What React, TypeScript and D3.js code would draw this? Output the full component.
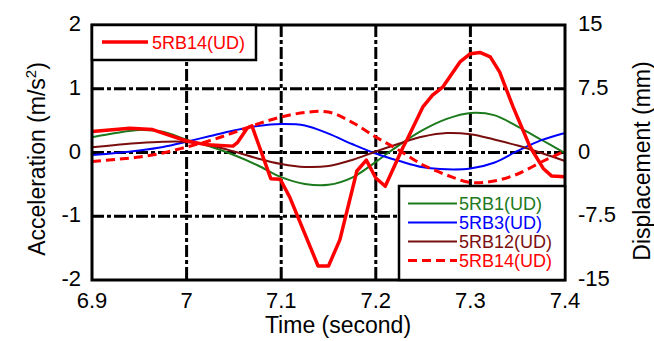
import React from "react";
import * as d3 from "d3";

// Displacement series (mm), sampled every 0.025 s from 6.9 to 7.4
const dispTimes = [6.9, 6.925, 6.95, 6.975, 7.0, 7.025, 7.05, 7.075, 7.1, 7.125, 7.15, 7.175, 7.2, 7.225, 7.25, 7.275, 7.3, 7.325, 7.35, 7.375, 7.4];
const rb1Disp = [1.8, 2.3, 2.65, 2.45, 1.5, 0.7, -0.3, -1.5, -2.9, -3.7, -3.8, -2.95, -1.1, 0.9, 2.65, 3.95, 4.65, 4.4, 3.05, 1.5, -0.06];
const rb3Disp = [-0.3, -0.06, 0.24, 0.65, 1.27, 1.94, 2.59, 3.12, 3.35, 3.18, 2.22, 1.0, -0.12, -1.0, -1.74, -1.98, -1.88, -1.2, 0.18, 1.45, 2.3];
const rb12Disp = [0.61, 0.88, 1.12, 1.26, 1.24, 0.82, 0.12, -0.7, -1.35, -1.7, -1.59, -0.88, 0.12, 1.06, 1.88, 2.29, 2.14, 1.53, 0.82, -0.06, -1.0];
const rb14Disp = [-1.06, -0.82, -0.53, -0.06, 0.65, 1.41, 2.35, 3.35, 4.18, 4.7, 4.76, 3.55, 1.82, 0.24, -1.47, -2.65, -3.53, -3.35, -2.53, -1.12, 0.18];

// Acceleration series (m/s^2)
const accTimes = [6.9, 6.94, 6.964, 7.0, 7.022, 7.049, 7.054, 7.064, 7.069, 7.089, 7.099, 7.109, 7.139, 7.15, 7.162, 7.18, 7.19, 7.2, 7.21, 7.229, 7.233, 7.25, 7.26, 7.271, 7.289, 7.3, 7.31, 7.321, 7.331, 7.345, 7.363, 7.377, 7.386, 7.4];
const rb14Acc = [0.33, 0.38, 0.36, 0.18, 0.12, 0.1, 0.16, 0.38, 0.42, -0.41, -0.42, -0.7, -1.78, -1.78, -1.37, -0.29, -0.12, -0.4, -0.53, 0.09, 0.2, 0.72, 0.9, 1.03, 1.42, 1.55, 1.57, 1.5, 1.26, 0.72, 0.09, -0.25, -0.37, -0.38];

const xTicks = [6.9, 7.0, 7.1, 7.2, 7.3, 7.4];
const xTickLabels = ["6.9", "7", "7.1", "7.2", "7.3", "7.4"];
const yLeftTicks = [2, 1, 0, -1, -2];
const yRightTicks = [15, 7.5, 0, -7.5, -15];
const xGrid = [7.0, 7.1, 7.2, 7.3];
const yGrid = [1, 0, -1];

const legendItems = [
  { label: "5RB1(UD)", color: "#1c7a1c", dash: "" },
  { label: "5RB3(UD)", color: "#0000ff", dash: "" },
  { label: "5RB12(UD)", color: "#7a0e0e", dash: "" },
  { label: "5RB14(UD)", color: "#ff0000", dash: "9,5" },
];

export default function App() {
  const W = 654, H = 341;
  const L = 92, R = 565, T = 25, B = 280;
  const x = d3.scaleLinear().domain([6.9, 7.4]).range([L, R]);
  const yL = d3.scaleLinear().domain([-2, 2]).range([B, T]);
  const yR = d3.scaleLinear().domain([-15, 15]).range([B, T]);

  const dispLine = (vals: number[]) =>
    d3.line<number>().x((_, i) => x(dispTimes[i])).y((d) => yR(d)).curve(d3.curveCatmullRom)(vals) || "";
  const accLine =
    d3.line<number>().x((_, i) => x(accTimes[i])).y((d) => yL(d))(rb14Acc) || "";

  const font = "Arial, 'Liberation Sans', sans-serif";
  const gridDash = "12,3,4,3";

  return (
    <svg width={W} height={H} style={{ position: "absolute", left: 0, top: 0 }} fontFamily={font}>
      <rect x={0} y={0} width={W} height={H} fill="#fff" />
      {/* grid */}
      {xGrid.map((t) => (
        <line key={"gx" + t} x1={x(t)} x2={x(t)} y1={T} y2={B} stroke="#000" strokeWidth={3} strokeDasharray={gridDash} />
      ))}
      {yGrid.map((v) => (
        <line key={"gy" + v} x1={L} x2={R} y1={yL(v)} y2={yL(v)} stroke="#000" strokeWidth={3} strokeDasharray={gridDash} />
      ))}
      {/* series */}
      <path d={dispLine(rb1Disp)} fill="none" stroke={legendItems[0].color} strokeWidth={2} />
      <path d={dispLine(rb3Disp)} fill="none" stroke={legendItems[1].color} strokeWidth={2} />
      <path d={dispLine(rb12Disp)} fill="none" stroke={legendItems[2].color} strokeWidth={2} />
      <path d={dispLine(rb14Disp)} fill="none" stroke={legendItems[3].color} strokeWidth={3} strokeDasharray="9,5" />
      <path d={accLine} fill="none" stroke="#ff0000" strokeWidth={3.5} strokeLinejoin="round" />
      {/* frame */}
      <rect x={L} y={T} width={R - L} height={B - T} fill="none" stroke="#000" strokeWidth={3} />
      {/* top-left legend */}
      <rect x={L} y={T} width={164} height={35} fill="#fff" stroke="#000" strokeWidth={2.5} />
      <line x1={102} x2={148} y1={42} y2={42} stroke="#ff0000" strokeWidth={3.5} />
      <text x={152} y={49} fontSize={18} fill="#ff0000">5RB14(UD)</text>
      {/* bottom-right legend */}
      <rect x={399} y={186} width={R - 399} height={B - 186} fill="#fff" stroke="#000" strokeWidth={2.5} />
      {legendItems.map((it, i) => {
        const yy = 203.5 + i * 19;
        return (
          <g key={it.label}>
            <line x1={408} x2={457} y1={yy} y2={yy} stroke={it.color} strokeWidth={it.dash ? 3 : 2} strokeDasharray={it.dash} />
            <text x={459} y={yy + 6.5} fontSize={18} fill={it.color}>{it.label}</text>
          </g>
        );
      })}
      {/* axes labels */}
      {xTicks.map((t, i) => (
        <text key={"xt" + t} x={x(t)} y={308} fontSize={22} textAnchor="middle">{xTickLabels[i]}</text>
      ))}
      {yLeftTicks.map((v) => (
        <text key={"yl" + v} x={81} y={yL(v) + 6} fontSize={22} textAnchor="end">{v}</text>
      ))}
      {yRightTicks.map((v) => (
        <text key={"yr" + v} x={578} y={yR(v) + 6} fontSize={22} textAnchor="start">{v}</text>
      ))}
      <text x={338} y={333} fontSize={23} textAnchor="middle">Time (second)</text>
      <text transform="translate(45,159) rotate(-90)" fontSize={23} textAnchor="middle">
        Acceleration (m/s<tspan dy={-9} fontSize={15}>2</tspan><tspan dy={9}>)</tspan>
      </text>
      <text transform="translate(650,161) rotate(-90)" fontSize={23} textAnchor="middle">Displacement (mm)</text>
    </svg>
  );
}
